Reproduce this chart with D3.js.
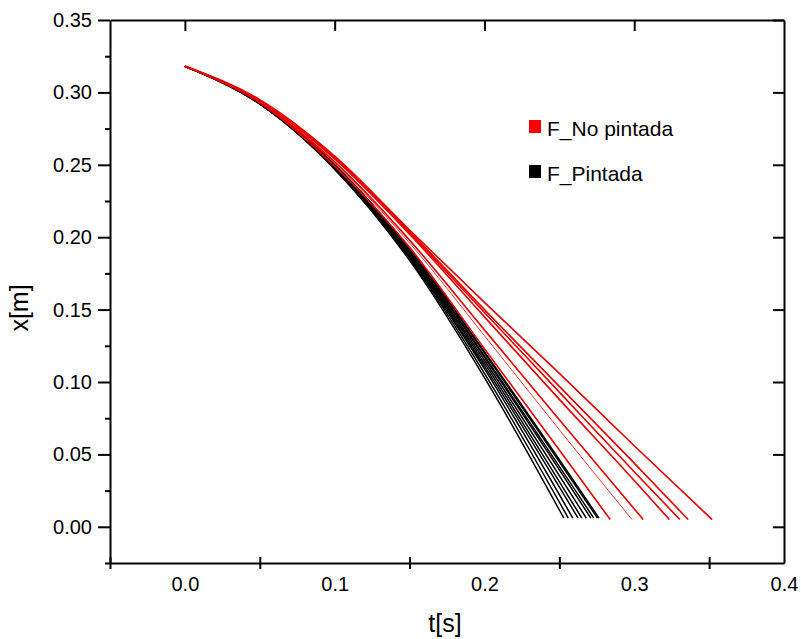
<!DOCTYPE html>
<html>
<head>
<meta charset="utf-8">
<script src="https://cdn.jsdelivr.net/npm/d3@7"></script>
<style>
    body { margin: 0; background: #fff; }
    text { font-family: Arial, "Liberation Sans", sans-serif; fill: #000; }
</style>
</head>
<body>
<svg id="chart" width="801" height="639"></svg>
<script>

// values: each run is a list of [t (s), x (m)]
const pintadaRuns = [
    [[0, 0.318], [0.05, 0.292], [0.10, 0.247], [0.15, 0.184], [0.20, 0.103], [0.253, 0.006]],
    [[0, 0.318], [0.05, 0.292], [0.10, 0.247], [0.15, 0.185], [0.20, 0.106], [0.256, 0.006]],
    [[0, 0.318], [0.05, 0.292], [0.10, 0.248], [0.15, 0.186], [0.20, 0.109], [0.259, 0.006]],
    [[0, 0.318], [0.05, 0.292], [0.10, 0.248], [0.15, 0.187], [0.20, 0.111], [0.2625, 0.006]],
    [[0, 0.318], [0.05, 0.293], [0.10, 0.248], [0.15, 0.188], [0.20, 0.113], [0.265, 0.006]],
    [[0, 0.318], [0.05, 0.293], [0.10, 0.249], [0.15, 0.189], [0.20, 0.115], [0.268, 0.006]],
    [[0, 0.318], [0.05, 0.293], [0.10, 0.249], [0.15, 0.190], [0.20, 0.117], [0.271, 0.006]],
    [[0, 0.318], [0.05, 0.293], [0.10, 0.249], [0.15, 0.191], [0.20, 0.118], [0.273, 0.006]],
    [[0, 0.318], [0.05, 0.293], [0.10, 0.250], [0.15, 0.192], [0.20, 0.120], [0.2755, 0.006]],
    [[0, 0.318], [0.05, 0.293], [0.10, 0.250], [0.15, 0.192], [0.20, 0.121], [0.2765, 0.006]]
]

const noPintadaRuns = [
    [[0, 0.318], [0.05, 0.293], [0.10, 0.249], [0.15, 0.193], [0.20, 0.123], [0.25, 0.053], [0.284, 0.005]],
    [[0, 0.318], [0.05, 0.293], [0.10, 0.251], [0.15, 0.196], [0.20, 0.132], [0.25, 0.067], [0.2985, 0.005]],
    [[0, 0.318], [0.05, 0.293], [0.10, 0.252], [0.15, 0.198], [0.20, 0.136], [0.25, 0.074], [0.306, 0.005]],
    [[0, 0.318], [0.05, 0.294], [0.10, 0.254], [0.15, 0.202], [0.20, 0.145], [0.25, 0.088], [0.30, 0.032], [0.3235, 0.005]],
    [[0, 0.318], [0.05, 0.294], [0.10, 0.255], [0.15, 0.203], [0.20, 0.148], [0.25, 0.093], [0.30, 0.038], [0.3305, 0.005]],
    [[0, 0.318], [0.05, 0.294], [0.10, 0.255], [0.15, 0.204], [0.20, 0.150], [0.25, 0.097], [0.30, 0.044], [0.336, 0.005]],
    [[0, 0.318], [0.05, 0.295], [0.10, 0.256], [0.15, 0.205], [0.20, 0.155], [0.25, 0.106], [0.30, 0.056], [0.352, 0.005]]
]
const thinRun = 1   // this red run is drawn with a thinner pen

const yMajor = [0.00, 0.05, 0.10, 0.15, 0.20, 0.25, 0.30, 0.35]
const yMinor = [-0.025, 0.025, 0.075, 0.125, 0.175, 0.225, 0.275, 0.325]
const xLabels = [0.0, 0.1, 0.2, 0.3, 0.4]
const xTopTicks = [0.0, 0.1, 0.2, 0.3]
const xBottomTicks = [-0.05, 0.05, 0.15, 0.25, 0.35]

const legendItems = [
    { name: 'F_No pintada', color: '#ff0000' },
    { name: 'F_Pintada', color: '#000000' }
]

const svg = d3.select('#chart')

const x = d3.scaleLinear().domain([-0.05, 0.4]).range([110, 784])
const y = d3.scaleLinear().domain([-0.025, 0.35]).range([563, 20])

const line = d3.line()
    .x(d => x(d[0]))
    .y(d => y(d[1]))
    .curve(d3.curveMonotoneX)

// curves: black first, red on top
svg.append('g')
    .selectAll('path')
    .data(pintadaRuns)
    .join('path')
    .attr('d', line)
    .attr('fill', 'none')
    .attr('stroke', '#000')
    .attr('stroke-width', 1.5)

svg.append('g')
    .selectAll('path')
    .data(noPintadaRuns)
    .join('path')
    .attr('d', line)
    .attr('fill', 'none')
    .attr('stroke', '#e60000')
    .attr('stroke-width', (d, i) => i === thinRun ? 0.8 : 1.6)

// axes
function styleAxis(g){
    g.selectAll('.domain').attr('stroke-width', 2)
    g.selectAll('.tick line').attr('stroke-width', 2)
    g.selectAll('text').attr('font-size', 20).attr('fill', '#000')
}

svg.append('g')
    .attr('transform', 'translate(110,0)')
    .call(d3.axisLeft(y).tickValues(yMajor).tickSize(12).tickSizeOuter(0)
        .tickPadding(6).tickFormat(d3.format('.2f')))
    .call(styleAxis)

svg.append('g')
    .attr('transform', 'translate(110,0)')
    .call(d3.axisLeft(y).tickValues(yMinor).tickSize(5).tickFormat(''))
    .call(g => g.select('.domain').remove())
    .call(styleAxis)

svg.append('g')
    .attr('transform', 'translate(784,0)')
    .call(d3.axisRight(y).tickValues(yMajor).tickSize(-11).tickSizeOuter(0).tickFormat(''))
    .call(styleAxis)

svg.append('g')
    .attr('transform', 'translate(0,20)')
    .call(d3.axisTop(x).tickValues(xTopTicks).tickSize(-11).tickSizeOuter(0).tickFormat(''))
    .call(styleAxis)

svg.append('g')
    .attr('transform', 'translate(0,563)')
    .call(d3.axisBottom(x).tickValues(xBottomTicks).tickSize(6).tickSizeOuter(0).tickFormat(''))
    .call(g => g.selectAll('.tick line').attr('y1', -6))
    .call(styleAxis)

svg.append('g')
    .attr('transform', 'translate(0,563)')
    .call(d3.axisBottom(x).tickValues(xLabels).tickSize(0).tickPadding(14).tickFormat(d3.format('.1f')))
    .call(g => g.select('.domain').remove())
    .call(styleAxis)

// axis titles
svg.append('text')
    .attr('transform', 'translate(28,308) rotate(-90)')
    .attr('text-anchor', 'middle')
    .attr('font-size', 25)
    .text('x[m]')

svg.append('text')
    .attr('x', 445)
    .attr('y', 632)
    .attr('text-anchor', 'middle')
    .attr('font-size', 25)
    .text('t[s]')

// legend
const legend = svg.append('g')
    .selectAll('g')
    .data(legendItems)
    .join('g')
    .attr('transform', (d, i) => `translate(529,${120 + i * 45})`)

legend.append('rect')
    .attr('width', 12)
    .attr('height', 13)
    .attr('fill', d => d.color)

legend.append('text')
    .attr('x', 18)
    .attr('y', 16)
    .attr('font-size', 21)
    .text(d => d.name)

</script>
</body>
</html>
